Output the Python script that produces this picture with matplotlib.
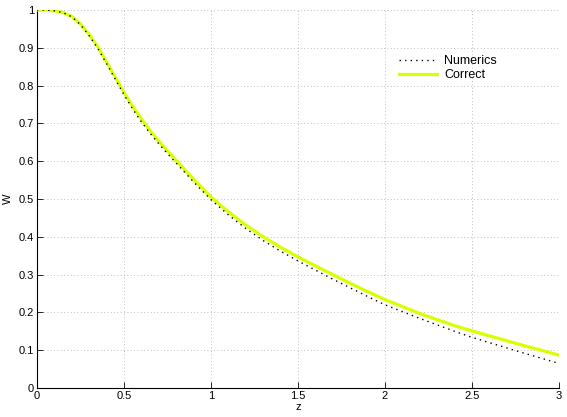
import matplotlib
matplotlib.use("Agg")
import matplotlib.pyplot as plt

z_correct = [0.0, 0.05, 0.1, 0.15, 0.2, 0.25, 0.3, 0.35, 0.4, 0.45, 0.5, 0.55, 0.6, 0.65, 0.7,
             0.75, 0.8, 0.9, 1.0, 1.1, 1.2, 1.3, 1.4, 1.5, 1.6, 1.7, 1.8, 1.9, 2.0, 2.2, 2.4,
             2.5, 2.6, 2.8, 3.0]
w_correct = [1.0, 1.0, 0.998, 0.993, 0.983, 0.963, 0.935, 0.902, 0.862, 0.822, 0.782, 0.745,
             0.712, 0.681, 0.653, 0.627, 0.602, 0.552, 0.505, 0.466, 0.431, 0.400, 0.372,
             0.347, 0.323, 0.300, 0.277, 0.255, 0.234, 0.197, 0.165, 0.151, 0.138, 0.112,
             0.087]

z_numerics = [0.0, 0.05, 0.1, 0.15, 0.2, 0.25, 0.3, 0.35, 0.4, 0.45, 0.5, 0.55, 0.6, 0.65, 0.7,
              0.75, 0.8, 0.9, 1.0, 1.1, 1.2, 1.3, 1.4, 1.5, 1.6, 1.7, 1.8, 1.9, 2.0, 2.2, 2.4,
              2.5, 2.6, 2.8, 3.0]
w_numerics = [1.0, 1.0, 0.998, 0.993, 0.982, 0.961, 0.932, 0.898, 0.858, 0.817, 0.776, 0.738,
              0.704, 0.674, 0.646, 0.620, 0.595, 0.545, 0.498, 0.458, 0.422, 0.390, 0.362,
              0.336, 0.312, 0.288, 0.265, 0.242, 0.220, 0.184, 0.150, 0.134, 0.120, 0.092,
              0.065]

x_ticks = [0, 0.5, 1, 1.5, 2, 2.5, 3]
x_tick_labels = ["0", "0.5", "1", "1.5", "2", "2.5", "3"]
y_ticks = [0, 0.1, 0.2, 0.3, 0.4, 0.5, 0.6, 0.7, 0.8, 0.9, 1]
y_tick_labels = ["0", "0.1", "0.2", "0.3", "0.4", "0.5", "0.6", "0.7", "0.8", "0.9", "1"]

plt.rcParams['font.family'] = ['Liberation Sans', 'DejaVu Sans']
plt.rcParams['font.size'] = 8

fig = plt.figure(figsize=(5.67, 4.17), dpi=100)
ax = fig.add_axes([37/567, 1-388/417, (559-37)/567, (388-10)/417])

ax.plot(z_correct, w_correct, color='#dcff00', lw=2.3, label='Correct', zorder=3)
ax.plot(z_numerics, w_numerics, color='black', lw=1.0, linestyle=(0, (1, 3)),
        label='Numerics', zorder=4)

ax.set_xlim(0, 3)
ax.set_ylim(0, 1)
ax.set_xticks(x_ticks)
ax.set_xticklabels(x_tick_labels)
ax.set_yticks(y_ticks)
ax.set_yticklabels(y_tick_labels)
ax.tick_params(direction='in', length=4, width=0.6, pad=2)
ax.grid(True, color='#aaaaaa', linestyle=(0, (1, 3)), lw=0.6)
ax.spines['top'].set_visible(False)
ax.spines['right'].set_visible(False)
ax.spines['left'].set_linewidth(0.8)
ax.spines['bottom'].set_linewidth(0.8)
ax.set_xlabel('z', labelpad=1)
ax.set_ylabel('W', labelpad=4)

handles, labels = ax.get_legend_handles_labels()
leg = ax.legend(handles[::-1], labels[::-1], loc='upper left',
                bbox_to_anchor=(388/567, 1-44/417), bbox_transform=fig.transFigure,
                frameon=False, handlelength=3.0, handletextpad=0.6, labelspacing=0.15,
                fontsize=9)

fig.savefig('out.png', dpi=100)
